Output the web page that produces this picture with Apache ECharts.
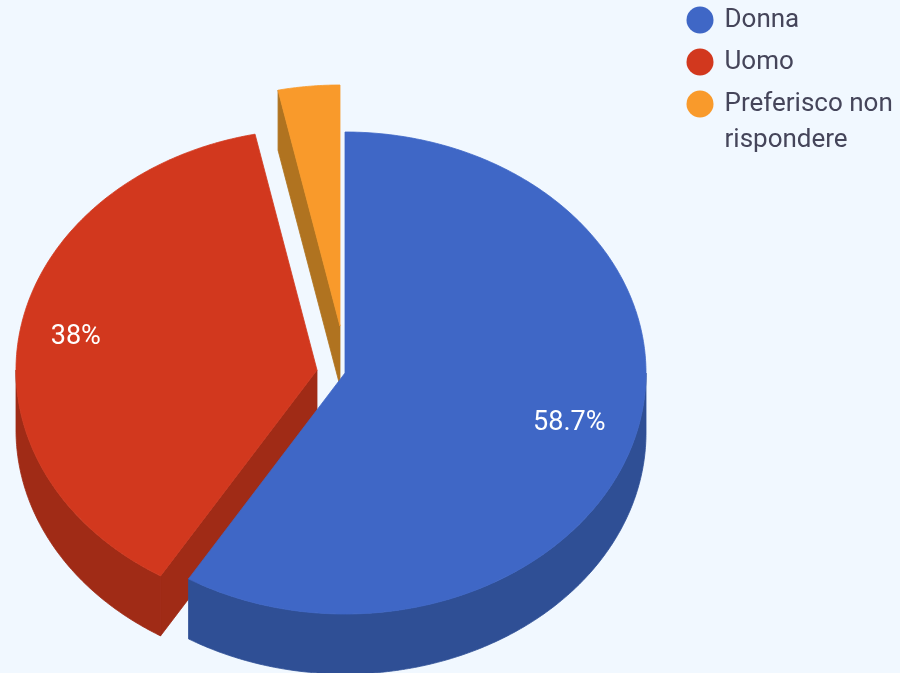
<!DOCTYPE html>
<html>
<head>
<meta charset="utf-8">
<style>html,body{margin:0;padding:0;background:#f1f8ff}#c{width:900px;height:673px}</style>
<script src="https://cdn.jsdelivr.net/npm/echarts@6/dist/echarts.min.js"></script>
</head>
<body>
<div id="c"></div>
<script>
const categories = ['Donna', 'Uomo', 'Preferisco non rispondere'];
const values = [58.7, 38, 3.3];
const percentLabels = ['58.7%', '38%', ''];
const topColors = ['#3f67c6', '#d2381e', '#f99a2b'];
const sideColors = ['#2f4f95', '#a02b16', '#b07320'];
const centres = [[345, 373], [317, 370], [340, 326]];
const labelReach = [0.774, 0.813, 0];
const RX = 301, RY = 241, DEPTH = 60;

const total = values.reduce((a, b) => a + b, 0);
const startOf = i => values.slice(0, i).reduce((a, b) => a + b, 0) / total * Math.PI * 2;

function rimPoint(c, t, dy) {
  return [c[0] + RX * Math.sin(t), c[1] - RY * Math.cos(t) + (dy || 0)];
}
function arcPoints(c, a, b, dy) {
  const n = Math.max(2, Math.ceil(Math.abs(b - a) / 0.01));
  const out = [];
  for (let k = 0; k <= n; k++) out.push(rimPoint(c, a + (b - a) * k / n, dy));
  return out;
}
function poly(points, fill) {
  return { type: 'polygon', shape: { points }, style: { fill, stroke: fill, lineWidth: 0.8 } };
}
function renderSlice(i) {
  const c = centres[i], a = startOf(i), b = a + values[i] / total * Math.PI * 2;
  const children = [];
  const side = sideColors[i], low = [c[0], c[1] + DEPTH];
  // curved wall: only the front half of the rim is visible
  const wallA = Math.max(a, Math.PI / 2), wallB = Math.min(b, Math.PI * 1.5);
  if (wallB > wallA) {
    const rim = arcPoints(c, wallA, wallB, 0);
    const rimLow = arcPoints(c, wallA, wallB, DEPTH).reverse();
    children.push(poly(rim.concat(rimLow), side));
  }
  // cut face on the leading edge, visible for slices on the left
  if (i > 0) {
    children.push(poly([c, rimPoint(c, a), rimPoint(c, a, DEPTH), low], side));
  }
  children.push(poly([c].concat(arcPoints(c, a, b, 0)), topColors[i]));
  if (percentLabels[i]) {
    const mid = (a + b) / 2;
    children.push({
      type: 'text',
      style: {
        x: c[0] + RX * labelReach[i] * Math.sin(mid),
        y: c[1] - RY * labelReach[i] * Math.cos(mid),
        text: percentLabels[i],
        fill: '#ffffff',
        font: '400 27px Roboto',
        align: 'center',
        verticalAlign: 'middle'
      }
    });
  }
  return { type: 'group', children };
}

// painted back to front
const order = [2, 1, 0];
const chart = echarts.init(document.getElementById('c'));
const legendText = { color: '#45455a', fontFamily: 'Roboto', fontSize: 26, lineHeight: 36, padding: [0, 0, 0, 6] };
chart.setOption({
  animation: false,
  backgroundColor: '#f1f8ff',
  legend: [
    { orient: 'vertical', left: 686.5, top: 2, padding: 0, itemWidth: 27, itemHeight: 27, itemGap: 6,
      icon: 'circle', data: categories.slice(0, 2), textStyle: legendText, selectedMode: false },
    { orient: 'vertical', left: 686.5, top: 50, padding: 0, itemWidth: 27, itemHeight: 27, icon: 'circle',
      data: categories.slice(2), textStyle: legendText, selectedMode: false,
      formatter: n => '\u00a0\nPreferisco non\nrispondere' }
  ],
  color: topColors,
  series: order.map(i => ({
    type: 'custom',
    name: categories[i],
    coordinateSystem: 'none',
    silent: true,
    itemStyle: { color: topColors[i] },
    data: [{ name: categories[i], value: values[i] }],
    renderItem: () => renderSlice(i)
  }))
});
</script>
</body>
</html>
